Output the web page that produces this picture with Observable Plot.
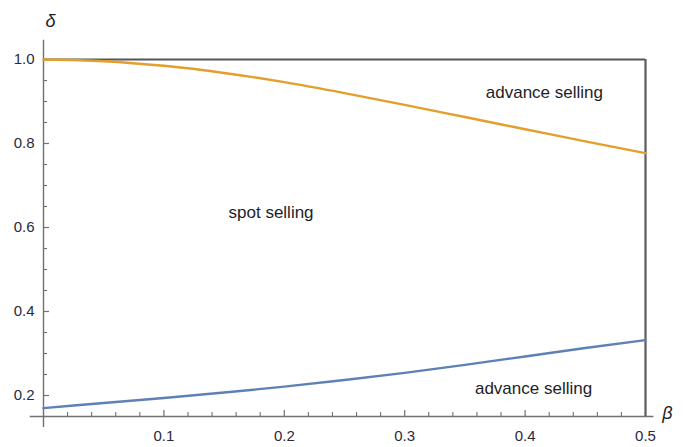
<!DOCTYPE html>
<html><head><meta charset="utf-8">
<script src="https://cdn.jsdelivr.net/npm/d3@7"></script>
<script src="https://cdn.jsdelivr.net/npm/@observablehq/plot@0.6"></script>
<style>body{margin:0;background:#fff}</style>
</head><body><div id="chart"></div>
<script>
// data
const beta = [0, 0.05, 0.1, 0.15, 0.2, 0.25, 0.3, 0.35, 0.4, 0.45, 0.5];
const upperDelta = [1.0, 0.996, 0.985, 0.968, 0.946, 0.920, 0.892, 0.863, 0.834, 0.805, 0.777];
const lowerDelta = [0.170, 0.182, 0.194, 0.207, 0.221, 0.237, 0.254, 0.273, 0.293, 0.313, 0.332];

const xMajorTicks = [0.1, 0.2, 0.3, 0.4, 0.5];
const xMinorTicks = [0.02, 0.04, 0.06, 0.08, 0.12, 0.14, 0.16, 0.18, 0.22, 0.24, 0.26, 0.28, 0.32, 0.34, 0.36, 0.38, 0.42, 0.44, 0.46, 0.48];
const yMajorTicks = [0.2, 0.4, 0.6, 0.8, 1.0];
const yMinorTicks = [0.25, 0.3, 0.35, 0.45, 0.5, 0.55, 0.65, 0.7, 0.75, 0.85, 0.9, 0.95];

const regionLabels = ["spot selling", "advance selling", "advance selling"];
const regionBeta = [0.189, 0.416, 0.407];
const regionDelta = [0.636, 0.921, 0.216];

const boundaryBeta = 0.5;
const boundaryDelta = 1.0;
const xAxisExtent = [-0.011, 0.507];
const yAxisExtent = [0.124, 1.046];

const upper = beta.map((b, i) => ({beta: b, delta: upperDelta[i]}));
const lower = beta.map((b, i) => ({beta: b, delta: lowerDelta[i]}));
const regions = regionLabels.map((t, i) => ({text: t, beta: regionBeta[i], delta: regionDelta[i]}));

// plot geometry
const W = 683, H = 447, mL = 43, mR = 38, mT = 38, mB = 31;
const xDom = [0, 0.5], yDom = [0.15, 1.05];
const pxX = (xDom[1] - xDom[0]) / (W - mL - mR); // data units per pixel
const pxY = (yDom[1] - yDom[0]) / (H - mT - mB);

const fmt = d3.format(".1f");
const tickColor = "#2a2a3a";
const axisColor = "#707070";

const chart = Plot.plot({
  width: W,
  height: H,
  marginLeft: mL,
  marginRight: mR,
  marginTop: mT,
  marginBottom: mB,
  style: {fontFamily: "Liberation Sans, Arial, sans-serif", background: "#fff"},
  x: {domain: xDom, label: null},
  y: {domain: yDom, label: null},
  marks: [
    // axis lines
    Plot.ruleY([yDom[0]], {x1: xAxisExtent[0], x2: xAxisExtent[1], stroke: axisColor, strokeWidth: 1.4}),
    Plot.ruleX([0], {y1: yAxisExtent[0], y2: yAxisExtent[1], stroke: axisColor, strokeWidth: 1.4}),
    // ticks (pointing inward, Mathematica style)
    Plot.ruleY(yMajorTicks, {x1: 0, x2: 6 * pxX, stroke: axisColor, strokeWidth: 1.2}),
    Plot.ruleY(yMinorTicks, {x1: 0, x2: 4 * pxX, stroke: axisColor, strokeWidth: 1.1}),
    Plot.ruleX(xMajorTicks.filter(d => d < 0.5), {y1: yDom[0], y2: yDom[0] + 6 * pxY, stroke: axisColor, strokeWidth: 1.2}),
    Plot.ruleX(xMinorTicks, {y1: yDom[0], y2: yDom[0] + 4 * pxY, stroke: axisColor, strokeWidth: 1.1}),
    // tick labels
    Plot.axisY(yMajorTicks, {tickSize: 0, tickPadding: 9, tickFormat: fmt, fontSize: 15, fill: tickColor, label: null}),
    Plot.axisX(xMajorTicks, {tickSize: 0, tickPadding: 14, tickFormat: fmt, fontSize: 15, fill: tickColor, label: null}),
    // boundary lines
    Plot.ruleY([boundaryDelta], {x1: 0, x2: boundaryBeta, stroke: "#555", strokeWidth: 2.2}),
    Plot.ruleX([boundaryBeta], {y1: yDom[0], y2: boundaryDelta, stroke: "#5c5c5c", strokeWidth: 2.2}),
    // curves
    Plot.line(upper, {x: "beta", y: "delta", stroke: "#E39F2B", strokeWidth: 2.4, curve: "monotone-x"}),
    Plot.line(lower, {x: "beta", y: "delta", stroke: "#5E81B5", strokeWidth: 2.4, curve: "monotone-x"}),
    // region labels
    Plot.text(regions, {x: "beta", y: "delta", text: "text", fontSize: 17, fill: "#1e1e28"}),
    // axis labels
    Plot.text(["δ"], {frameAnchor: "top-left", dx: 2, dy: -24, fontSize: 18, fontStyle: "italic", fill: "#1e1e28"}),
    Plot.text(["β"], {frameAnchor: "bottom-right", dx: 27, dy: 2, fontSize: 18, fontStyle: "italic", fill: "#1e1e28"})
  ]
});
document.getElementById("chart").append(chart);
</script>
</body></html>
